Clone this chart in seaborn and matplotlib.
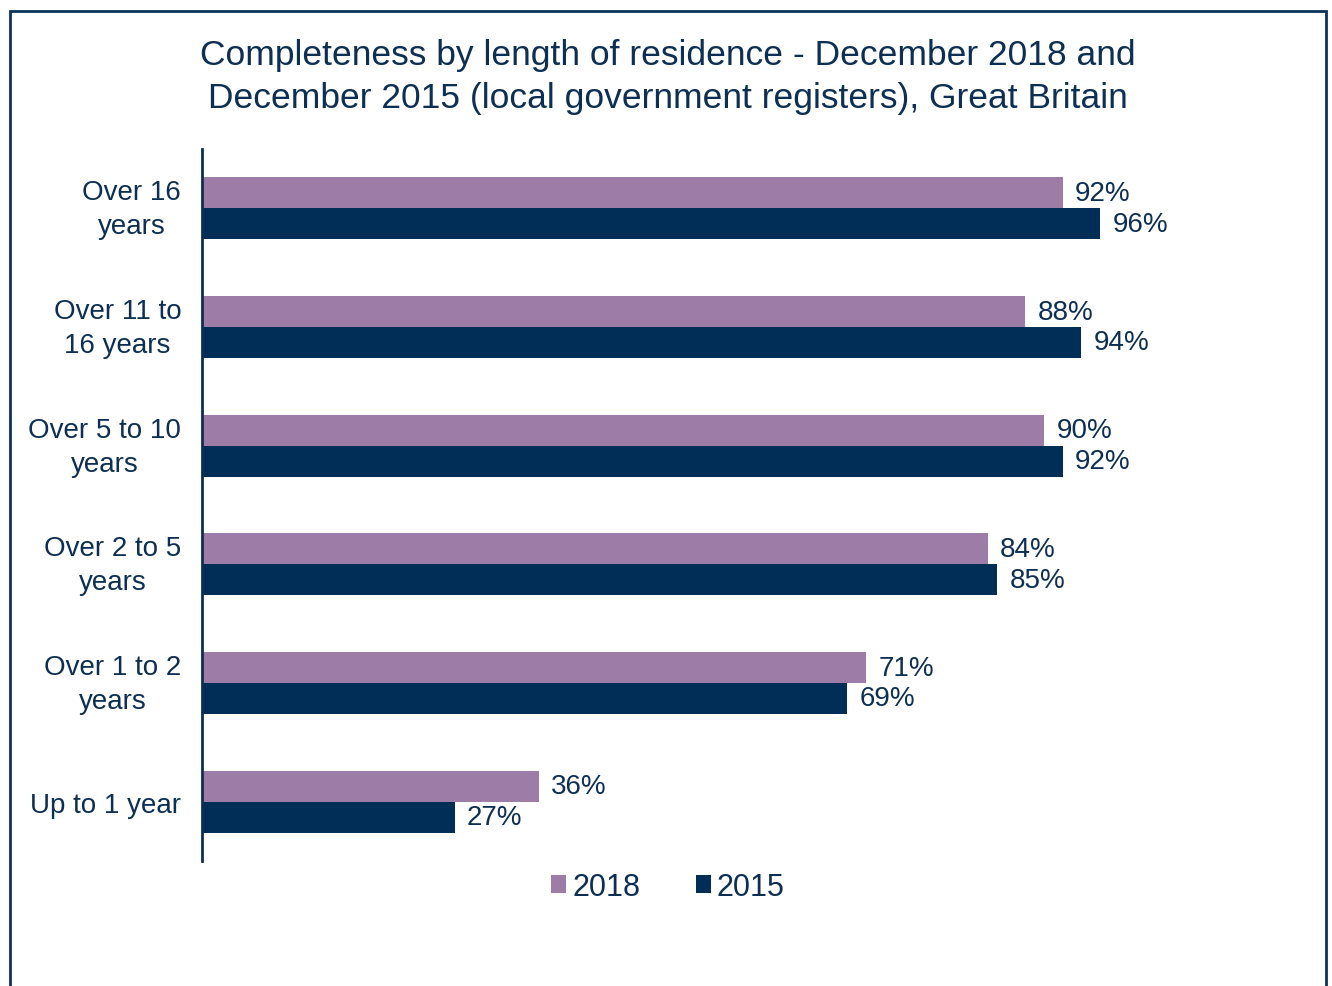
import matplotlib
matplotlib.use("Agg")
import matplotlib.pyplot as plt
import matplotlib.transforms as mtransforms
from matplotlib.patches import Rectangle
import seaborn as sns
import pandas as pd

# data
categories = ["Over 16\nyears", "Over 11 to\n16 years", "Over 5 to 10\nyears",
              "Over 2 to 5\nyears", "Over 1 to 2\nyears", "Up to 1 year"]
values_2018 = [92, 88, 90, 84, 71, 36]
values_2015 = [96, 94, 92, 85, 69, 27]
years = ["2018", "2015"]
colors = {"2018": "#9d7ca8", "2015": "#002e57"}
navy = "#0d2f53"

df = pd.DataFrame({
    "category": categories * 2,
    "year": [years[0]] * len(categories) + [years[1]] * len(categories),
    "value": values_2018 + values_2015,
})

sns.set_theme(style="white")
plt.rcParams["font.family"] = ["Liberation Sans", "DejaVu Sans"]

fig = plt.figure(figsize=(13.32, 9.87), dpi=100)
ax = fig.add_axes([202 / 1332, 1 - 862 / 987, 1098 / 1332, 712 / 987])

sns.barplot(data=df, y="category", x="value", hue="year", hue_order=years,
            order=categories, palette=colors, width=0.52, ax=ax,
            saturation=1, legend=True, edgecolor="none")

# value labels
for cont in ax.containers:
    ax.bar_label(cont, labels=[f"{v:.0f}%" for v in cont.datavalues],
                 padding=9, fontsize=20, color=navy)

ax.set_xlim(0, 1098 / 9.354)
ax.set_ylim(5.5, -0.5)
ax.set_xlabel("")
ax.set_ylabel("")
ax.set_xticks([])
ax.tick_params(axis="y", length=0, pad=15, labelsize=20, labelcolor=navy)
# two-line labels sit a little above the group centre in the original
shift = mtransforms.ScaledTranslation(0, 6 / 100, fig.dpi_scale_trans)
for lab in ax.get_yticklabels():
    lab.set_multialignment("center")
    lab.set_linespacing(1.4)
    if "\n" in lab.get_text():
        lab.set_transform(lab.get_transform() + shift)
for side in ["top", "right", "bottom"]:
    ax.spines[side].set_visible(False)
ax.spines["left"].set_color(navy)
ax.spines["left"].set_linewidth(2)

# legend under the plot
ax.legend(loc="center", bbox_to_anchor=(668 / 1332, 1 - 888 / 987),
          bbox_transform=fig.transFigure, ncol=2, frameon=False,
          fontsize=22, labelcolor=navy, handlelength=0.5, handleheight=0.5,
          handletextpad=0.2, columnspacing=1.8)

fig.text(668 / 1332, 1 - 77 / 987,
         "Completeness by length of residence - December 2018 and\n"
         "December 2015 (local government registers), Great Britain",
         ha="center", va="center", fontsize=25.5, color=navy, linespacing=1.4)

# outer frame
fig.patches.append(Rectangle((10 / 1332, -0.05), 1316 / 1332, 1.05 - 12 / 987,
                             transform=fig.transFigure, fill=False,
                             edgecolor="#0b3358", linewidth=2))

fig.savefig("out.png", dpi=100)
